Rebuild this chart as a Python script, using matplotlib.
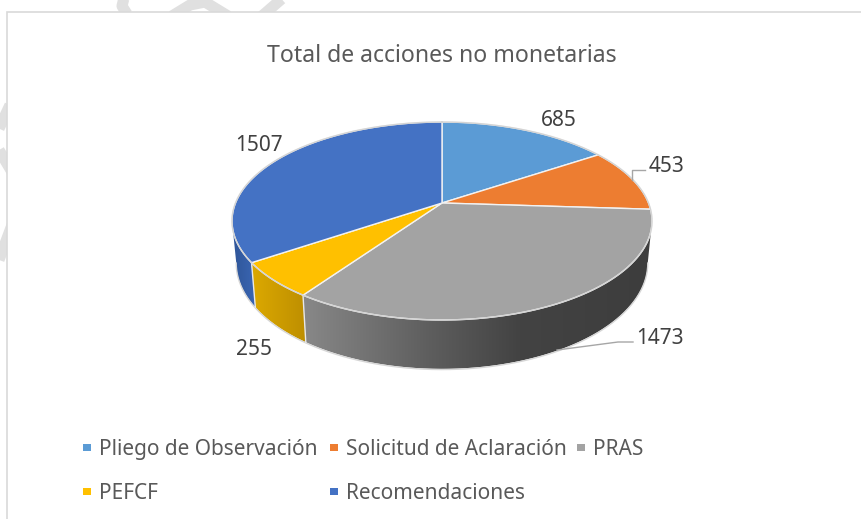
import numpy as np
import matplotlib
matplotlib.use("Agg")
import matplotlib.pyplot as plt
from matplotlib.patches import Polygon, Rectangle
from matplotlib.colors import to_rgb

title = "Total de acciones no monetarias"
categories = ["Pliego de Observación", "Solicitud de Aclaración", "PRAS", "PEFCF", "Recomendaciones"]
values = [685, 453, 1473, 255, 1507]
colors = ["#5B9BD5", "#ED7D31", "#A3A3A3", "#FFC000", "#4472C4"]
side_stops = {
    2: [(0.0, "#888888"), (0.36, "#5E5E5E"), (0.62, "#434343"), (1.0, "#3D3D3D")],
    3: [(0.0, "#DCA900"), (1.0, "#BD8E00")],
    4: [(0.0, "#2F5597"), (1.0, "#3A66B4")],
}

plt.rcParams["font.family"] = ["Noto Sans", "DejaVu Sans"]
W, H = 862, 519
fig = plt.figure(figsize=(W / 100, H / 100), dpi=100)
ax = fig.add_axes([0, 0, 1, 1])
ax.axis("off")

# faint watermark strokes outside the frame
wm = dict(color="#E0E0E0", lw=8, solid_capstyle="butt", zorder=0)
ax.plot([124, 122, 127], [-2, 6, 14], **wm)
ax.plot([172, 190, 205, 228], [16, 5, 2, 16], **wm)
ax.plot([285, 262], [-4, 16], **wm)
ax.plot([10, -4], [105, 135], **wm)
ax.plot([-4, 12], [145, 172], **wm)
ax.plot([12, -4], [225, 268], **wm)
ax.add_patch(Rectangle((7.5, 11.5), W, H, fc="white", ec="#D9D9D9", lw=1.2, zorder=1))

CX, CY, A, B, K, D, BASE = 442, 203, 206.5, 95.7, 0.1818, 40, 0.98


def proj(theta):
    t = np.radians(theta)
    x, y = np.sin(t), np.cos(t)
    den = 1 + K * y
    return CX + A * x / den, CY - B * y / den, D / den


def base(theta):
    x, y, d = proj(theta)
    return CX + BASE * (x - CX), y + d


total = sum(values)
edges = np.concatenate([[0], np.cumsum(values)]) / total * 360

# side wall: one gradient image per slice, clipped to the wall's outline
vis_lo, vis_hi = 100.5, 259.5
for i in range(len(values)):
    lo, hi = max(edges[i], vis_lo), min(edges[i + 1], vis_hi)
    if hi <= lo:
        continue
    ts = np.linspace(lo, hi, 200)
    xt, yt, _ = proj(ts)
    xb, yb = base(ts)
    outline = np.column_stack([np.r_[xt, xb[::-1]], np.r_[yt, yb[::-1]]])
    poly = Polygon(outline, closed=True, fc="none", ec="none", transform=ax.transData)
    ax.add_patch(poly)
    pos = [s[0] for s in side_stops[i]]
    rgb = np.array([to_rgb(s[1]) for s in side_stops[i]])
    u = np.linspace(0, 1, 300)
    grad = np.stack([np.interp(u, pos, rgb[:, c]) for c in range(3)], axis=-1)[None, :, :]
    im = ax.imshow(grad, extent=[outline[:, 0].min(), outline[:, 0].max(),
                                 outline[:, 1].max(), outline[:, 1].min()],
                   aspect="auto", zorder=2, interpolation="bilinear")
    im.set_clip_path(poly)
    if edges[i] > vis_lo:
        x0, y0, _ = proj(edges[i])
        x1, y1 = base(edges[i])
        ax.plot([x0, x1], [y0, y1], color="#E8E8E8", lw=1, zorder=3)

# outer rim of the base
ts = np.linspace(vis_lo, vis_hi, 400)
xb, yb = base(ts)
ax.plot(xb, yb + 0.7, color="#D6D6D6", lw=1.0, zorder=2.5)

# top face
for i, v in enumerate(values):
    ts = np.linspace(edges[i], edges[i + 1], 200)
    xs, ys, _ = proj(ts)
    pts = np.column_stack([np.r_[CX, xs], np.r_[CY, ys]])
    ax.add_patch(Polygon(pts, closed=True, fc=colors[i], ec="#F2F2F2", lw=1.0,
                         joinstyle="round", zorder=4))
ts = np.linspace(0, 360, 721)
xs, ys, _ = proj(ts)
ax.plot(xs, ys, color="#D4D4D4", lw=1.0, zorder=5)

# leader lines
lead = dict(color="#A6A6A6", lw=1.0, zorder=6)
ax.plot([632, 632, 645], [180, 170, 170], **lead)
ax.plot([557, 618, 633], [350, 342, 342], **lead)

# data labels
label_pos = [(559, 118), (667, 164), (660, 336), (254, 347), (259, 143)]
for (x, y), v in zip(label_pos, values):
    ax.text(x, y, str(v), ha="center", va="center_baseline", fontsize=15, color="#404040", zorder=7)

ax.text(442, 53, title, ha="center", va="center_baseline", fontsize=16.6, color="#595959", zorder=7)

# legend
leg_marker = [(87, 447), (334, 447), (581, 447), (87, 491), (334, 491)]
for (x, y), c, name in zip(leg_marker, colors, categories):
    ax.add_patch(Rectangle((x - 4, y - 3.5), 8, 7, fc=c, ec="none", zorder=7))
    ax.text(x + 12, y, name, ha="left", va="center_baseline", fontsize=15, color="#595959", zorder=7)

ax.set_xlim(0, W)
ax.set_ylim(H, 0)
fig.savefig("out.png", dpi=100)
